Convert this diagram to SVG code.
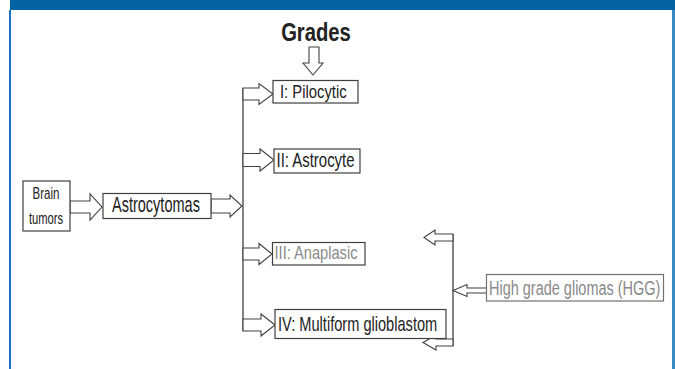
<svg xmlns="http://www.w3.org/2000/svg" width="675" height="369" viewBox="0 0 675 369">
<style>
.box{fill:#fff;stroke:#404040;stroke-width:1.2}
.gbox{fill:#fff;stroke:#707070;stroke-width:1.2}
.arr{fill:#fff;stroke:#404040;stroke-width:1.1;stroke-linejoin:miter}
.ln{fill:none;stroke:#404040;stroke-width:1.3}
.t{font-family:"Liberation Sans",Arial,sans-serif;fill:#222}
.g{fill:#8a8a8a}
</style>
<rect x="0" y="0" width="675" height="369" fill="#fff"/>
<rect x="10" y="0" width="665" height="10" fill="#0563a4"/>
<rect x="9" y="10" width="2" height="359" fill="#1a73c0"/>
<rect x="672" y="10" width="3" height="359" fill="#3a8ac4"/>

<text class="t" transform="translate(316 41) scale(0.81 1)" font-size="25" font-weight="bold" text-anchor="middle">Grades</text>

<g id="connectors">
<polygon class="arr" points="309,47 319,47 319,63 323,63 313,75 303,63 309,63"/>
<polygon class="arr" points="70,201 90,201 90,194 102,207 90,220 90,213 70,213"/>
<polygon class="arr" points="211,199 230,199 230,195 242,206 230,217 230,213 211,213"/>
<line class="ln" x1="243" y1="88" x2="243" y2="331"/>
<polygon class="arr" points="243,88 259,88 259,83.5 273,94 259,104.5 259,100 243,100"/>
<polygon class="arr" points="243,153.5 260,153.5 260,149 274,160 260,171 260,166.5 243,166.5"/>
<polygon class="arr" points="243,248 259,248 259,243.5 272,254 259,264.5 259,260 243,260"/>
<polygon class="arr" points="243,319 261,319 261,314 275,325 261,336 261,331 243,331"/>
<line class="ln" x1="453" y1="234" x2="453" y2="346"/>
<polygon class="arr" points="453,234 435,234 435,230 424,237.5 435,245 435,241 453,241"/>
<polygon class="arr" points="453,339 436,339 436,335 423,342.5 436,350 436,346 453,346"/>
<polygon class="arr" points="487,288 467,288 467,284.5 453,290.5 467,296.5 467,293 487,293"/>
</g>

<g id="brain">
<rect class="box" x="23" y="181" width="47" height="50"/>
<text class="t" transform="translate(46 199) scale(0.72 1)" font-size="16" text-anchor="middle">Brain</text>
<text class="t" transform="translate(46 224) scale(0.7 1)" font-size="16" text-anchor="middle">tumors</text>
</g>
<g id="astrocytomas">
<rect class="box" x="103" y="193.5" width="108" height="25"/>
<text class="t" transform="translate(112 211.5) scale(0.66 1)" font-size="22">Astrocytomas</text>
</g>
<g id="pilocytic">
<rect class="box" x="273" y="80.5" width="85" height="22.5"/>
<text class="t" transform="translate(280 97.7) scale(0.8 1)" font-size="18.5">I: Pilocytic</text>
</g>
<g id="astrocyte">
<rect class="box" x="274" y="149" width="86" height="24"/>
<text class="t" transform="translate(276.5 167.3) scale(0.767 1)" font-size="19.5">II: Astrocyte</text>
</g>
<g id="anaplasic">
<rect class="box" x="272.5" y="242.5" width="92.5" height="22.5"/>
<text class="t g" transform="translate(274.5 259) scale(0.8 1)" font-size="18.3">III: Anaplasic</text>
</g>
<g id="multiform">
<rect class="box" x="275" y="309.5" width="171" height="29"/>
<text class="t" transform="translate(278 331) scale(0.73 1)" font-size="20">IV: Multiform glioblastom</text>
</g>
<g id="hgg">
<rect class="gbox" x="486.5" y="274.5" width="177" height="26.5"/>
<text class="t g" transform="translate(489 294.5) scale(0.69 1)" font-size="21">High grade gliomas (HGG)</text>
</g>
</svg>
